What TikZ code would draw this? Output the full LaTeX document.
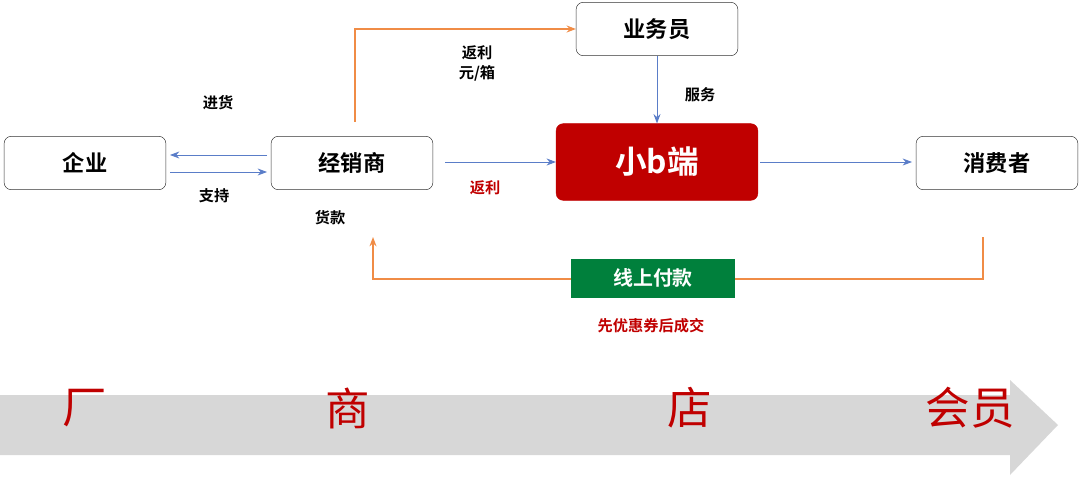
\documentclass[tikz,border=0pt]{standalone}
\usepackage{fontspec}
\setmainfont{Noto Sans CJK SC}
\newfontfamily\cjkbold{Noto Sans CJK SC Bold}
\usetikzlibrary{arrows.meta}
\definecolor{blueline}{RGB}{90,125,200}
\definecolor{orangeline}{RGB}{240,140,70}
\definecolor{darkred}{RGB}{192,0,0}
\definecolor{greenbox}{RGB}{0,128,60}
\definecolor{arrowgray}{RGB}{215,215,215}
\tikzset{
  roundbox/.style={draw=black!80, rounded corners=6pt, minimum width=4.85cm, minimum height=1.6cm, font=\cjkbold\fontsize{19}{22}\selectfont},
  smalltext/.style={font=\cjkbold\fontsize{13}{16}\selectfont},
  blue arrow/.style={draw=blueline, -{Stealth[length=8pt]}, line width=0.8pt},
  orange arrow/.style={draw=orangeline, -{Stealth[length=8pt]}, line width=1.1pt},
  stage/.style={text=darkred, font=\fontsize{38}{40}\selectfont}
}
\begin{document}
\begin{tikzpicture}[x=0.03cm, y=-0.03cm]
\useasboundingbox (0,0) rectangle (1080,479);
% bottom arrow
\fill[arrowgray] (0,395) -- (1010,395) -- (1010,380) -- (1058,425) -- (1010,475) -- (1010,455) -- (0,455) -- cycle;
\node[stage] (chang) at (85,408) {厂};
\node[stage] (shang) at (348,408) {商};
\node[stage] (dian) at (690,408) {店};
\node[stage] (huiyuan) at (970,408) {会员};

% boxes
\node[roundbox] (qiye) at (85,163) {企业};
\node[roundbox] (jxs) at (352,163) {经销商};
\node[roundbox] (ywy) at (657,29) {业务员};
\node[roundbox] (xfz) at (997,163) {消费者};
\node[fill=darkred, draw=darkred, rounded corners=6pt, minimum width=6.05cm, minimum height=2.3cm, text=white, font=\cjkbold\fontsize{27}{30}\selectfont] (xb) at (657,162) {小b端};

% arrows
\coordinate (qr1) at (170,155);
\coordinate (jl1) at (267,155);
\coordinate (qr2) at (170,172);
\coordinate (jl2) at (267,172);
\draw[blue arrow] (jl1) -- (qr1);
\draw[blue arrow] (qr2) -- (jl2);
\node[smalltext] (jinhuo) at (218,103) {进货};
\node[smalltext] (zhichi) at (214,196) {支持};

\coordinate (ostart) at (355,122);
\draw[orange arrow] (ostart) |- (ywy.west);
\node[smalltext, align=center, font=\cjkbold\fontsize{13}{17}\selectfont] (fanli1) at (477,63) {返利\\元/箱};

\draw[blue arrow] (ywy) -- (xb);
\node[smalltext] (fuwu) at (700,95) {服务};

\coordinate (jr) at (445,162);
\draw[blue arrow] (jr) -- (xb);
\node[smalltext, text=darkred] (fanli2) at (485,188) {返利};
\node[smalltext] (huokuan) at (330,218) {货款};

\coordinate (xbr) at (760,162);
\coordinate (xfl) at (912,162);
\draw[blue arrow] (xbr) -- (xfl);

\coordinate (ob) at (983,237);
\coordinate (oe) at (373,237);
\draw[orange arrow] (ob) -- (983,279) -- (373,279) -- (oe);
\node[fill=greenbox, minimum width=4.9cm, minimum height=1.17cm, text=white, font=\cjkbold\fontsize{17}{20}\selectfont] (xsfk) at (653,278) {线上付款};
\node[smalltext, text=darkred] (yhq) at (651,326) {先优惠券后成交};
\end{tikzpicture}
\end{document}
